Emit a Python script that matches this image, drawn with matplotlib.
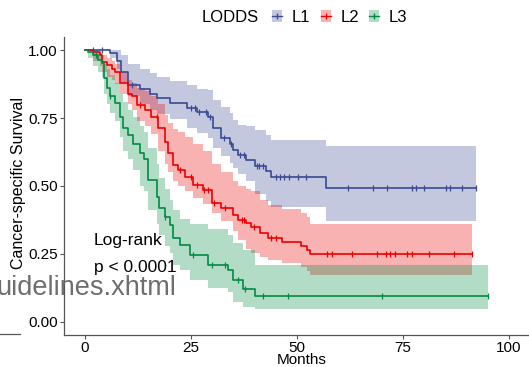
import numpy as np
import matplotlib.pyplot as plt
from matplotlib.patches import Patch
from matplotlib.lines import Line2D
from matplotlib.legend_handler import HandlerTuple

plt.rcParams["font.family"] = ["Liberation Sans", "DejaVu Sans"]

# Kaplan-Meier curves (months, survival, CI)
l1_time = [0, 5.9, 7.5, 8.6, 10.2, 13.0, 15.3, 16.9, 20.0, 24.0, 26.4, 29.0, 30.2, 32.2, 34.2, 35.0, 36.0, 38.1, 40.1, 42.8, 44.0, 57.0]
l1_surv = [1.0, .99, .96, .92, .87, .857, .838, .823, .806, .786, .772, .755, .712, .675, .655, .632, .614, .594, .575, .555, .532, .491]
l1_up = [1.0, 1.0, 1.0, .98, .95, .93, .915, .90, .885, .87, .855, .853, .816, .792, .767, .743, .724, .72, .705, .687, .669, .648]
l1_lo = [1.0, .97, .93, .88, .83, .80, .78, .765, .745, .715, .695, .675, .64, .61, .585, .565, .545, .52, .47, .445, .424, .371]
l1_end = 92.4
l1_cens = [2.0, 3.9, 11.0, 25.0, 26.0, 27.0, 28.5, 29.5, 32.8, 34.5, 36.6, 37.6, 40.5, 41.1, 42.0,
           45.0, 46.0, 47.0, 48.1, 50.2, 52.1, 62.1, 68.0, 71.2, 77.1, 78.1, 80.0, 85.1, 86.1, 89.1, 92.3]

l2_time = [0, 2.0, 3.5, 3.9, 5.1, 6.3, 7.1, 8.3, 10.2, 11.0, 12.2, 14.2, 15.7, 17.3, 18.9, 19.7, 20.8, 22.0, 23.6, 25.5, 27.9, 29.9, 32.2, 35.0, 36.2, 38.1, 39.3, 41.3, 43.2, 46.4, 51.1, 52.3, 53.1]
l2_surv = [1.0, .994, .98, .957, .945, .932, .92, .877, .84, .83, .798, .78, .755, .712, .663, .62, .577, .559, .534, .504, .485, .436, .418, .393, .375, .363, .35, .326, .31, .295, .279, .265, .249]
l2_up = [1.0, 1.0, .99, .98, .97, .96, .95, .92, .89, .88, .86, .85, .83, .80, .76, .73, .71, .70, .68, .655, .63, .58, .55, .52, .50, .49, .48, .45, .43, .415, .40, .385, .359]
l2_lo = [1.0, .96, .94, .92, .90, .89, .875, .84, .80, .78, .74, .72, .69, .63, .58, .55, .52, .50, .48, .455, .435, .40, .37, .335, .30, .27, .255, .24, .228, .218, .203, .189, .173]
l2_end = 91.4
l2_cens = [13.0, 17.0, 22.5, 25.0, 26.5, 28.0, 29.0, 30.5, 33.0, 37.0, 37.6, 39.8, 44.0, 45.0,
           57.2, 58.2, 63.1, 69.0, 71.1, 72.1, 73.1, 76.1, 77.1, 81.1, 87.0, 91.4]

l3_time = [0, 0.8, 2.0, 3.0, 3.9, 4.5, 5.1, 6.0, 7.1, 8.3, 9.0, 10.2, 11.4, 13.0, 14.0, 14.9, 16.9, 17.5, 18.9, 20.0, 20.8, 22.4, 24.8, 29.1, 33.8, 35.0, 37.2, 40.1]
l3_surv = [1.0, .994, .982, .965, .951, .896, .859, .83, .804, .755, .712, .687, .655, .62, .60, .522, .461, .418, .387, .357, .307, .283, .246, .21, .19, .155, .12, .096]
l3_up = [1.0, 1.0, 1.0, .99, .98, .95, .93, .91, .88, .84, .81, .78, .755, .72, .70, .64, .58, .53, .49, .45, .41, .38, .36, .34, .32, .29, .265, .21]
l3_lo = [1.0, .97, .94, .92, .90, .84, .80, .77, .74, .68, .63, .60, .56, .50, .48, .41, .36, .32, .28, .255, .21, .19, .155, .125, .11, .075, .055, .048]
l3_end = 95.1
l3_cens = [2.5, 6.0, 19.0, 25.5, 30.0, 33.0, 36.0, 37.7, 42.0, 48.0, 70.2, 95.1]

groups = ["L1", "L2", "L3"]
colors = ["#3B4992", "#EE0000", "#008B45"]

fig = plt.figure(figsize=(5.29, 3.67), dpi=100)
ax = fig.add_axes([0.121, 0.0872, 0.879, 0.812])

data = [
    (l1_time, l1_surv, l1_up, l1_lo, l1_end, l1_cens),
    (l2_time, l2_surv, l2_up, l2_lo, l2_end, l2_cens),
    (l3_time, l3_surv, l3_up, l3_lo, l3_end, l3_cens),
]

for (t, s, up, lo, end, cens), col in zip(data, colors):
    tt = np.append(t, end)
    uu = np.append(up, up[-1])
    ll = np.append(lo, lo[-1])
    ax.fill_between(tt, ll, uu, step="post", color=col, alpha=0.3, lw=0)

for (t, s, up, lo, end, cens), col in zip(data, colors):
    tt = np.append(t, end)
    ss = np.append(s, s[-1])
    ax.step(tt, ss, where="post", color=col, lw=1.2)
    # censor marks sit on the curve
    idx = np.searchsorted(t, cens, side="right") - 1
    ax.plot(cens, np.array(s)[idx], ls="none", marker="|", ms=5, mew=0.9, color=col)

ax.set_xlim(-4.95, 104.8)
ax.set_ylim(-0.048, 1.048)
ax.set_xticks([0, 25, 50, 75, 100])
ax.set_yticks([0, 0.25, 0.5, 0.75, 1.0])
ax.set_yticklabels(["0.00", "0.25", "0.50", "0.75", "1.00"])
ax.tick_params(labelsize=11, color="#555555", length=3, width=0.8, pad=1.5)
ax.tick_params(axis="x", pad=1)
for side in ["top", "right"]:
    ax.spines[side].set_visible(False)
for side in ["left", "bottom"]:
    ax.spines[side].set_color("#555555")
    ax.spines[side].set_linewidth(0.9)

ax.set_xlabel("Months", fontsize=11, va="center")
ax.xaxis.set_label_coords(0.512, -0.085)
ax.set_ylabel("Cancer-specific Survival", fontsize=11.5, va="center")
ax.yaxis.set_label_coords(-0.098, 0.51)

ax.text(2.1, 0.30, "Log-rank", fontsize=12.5, va="center")
ax.text(2.1, 0.20, "p < 0.0001", fontsize=12.5, va="center")

# legend on top, title on the left
fig.text(230 / 529, 1 - 17 / 367, "LODDS", fontsize=12, ha="center", va="center")
handles = [
    (Patch(facecolor=c, alpha=0.3, lw=0), Line2D([], [], color=c, lw=1, marker="|", ms=5))
    for c in colors
]
fig.legend(handles, groups, loc="center left", bbox_to_anchor=(257 / 529, 1 - 17 / 367),
           ncol=3, frameon=False, fontsize=12, handler_map={tuple: HandlerTuple(ndivide=1)},
           handlelength=0.6, handleheight=0.7, handletextpad=0.6, columnspacing=0.6)

# stray overlay text and line at the left edge
fig.text(-4 / 529, 1 - 288 / 367, "uidelines.xhtml", fontsize=19.5, color="#6e6e6e", va="center")
fig.add_artist(Line2D([0, 20 / 529], [1 - 334 / 367] * 2, color="#555555", lw=0.9))

fig.savefig("out.png", dpi=100)
